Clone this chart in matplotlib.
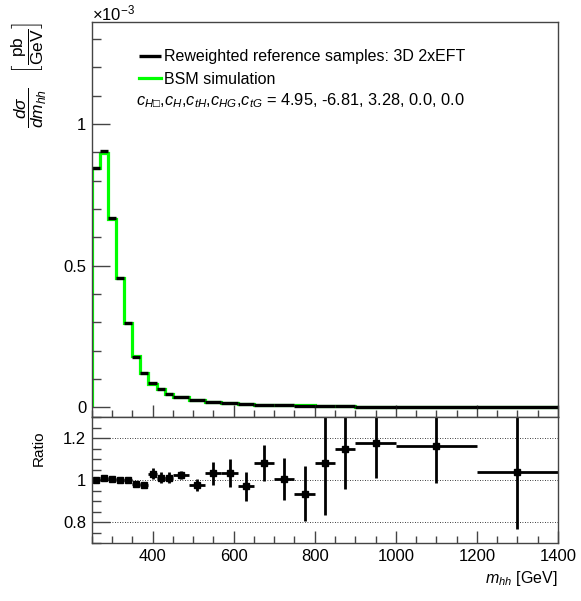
import numpy as np
import matplotlib
matplotlib.use('Agg')
import matplotlib.pyplot as plt
from matplotlib.ticker import MultipleLocator, FuncFormatter

plt.rcParams['font.family'] = ['Liberation Sans', 'DejaVu Sans']
plt.rcParams['mathtext.fontset'] = 'custom'
plt.rcParams['mathtext.rm'] = 'Liberation Sans'
plt.rcParams['mathtext.it'] = 'Liberation Sans:italic'
plt.rcParams['mathtext.bf'] = 'Liberation Sans:bold'

# bin edges in m_hh [GeV]
bin_edges = [250, 270, 290, 310, 330, 350, 370, 390, 410, 430, 450, 490, 530,
             570, 610, 650, 700, 750, 800, 850, 900, 1000, 1200, 1400]

# d sigma / d m_hh in units of 1e-3 pb/GeV
reweighted = [0.844, 0.906, 0.667, 0.458, 0.296, 0.179, 0.120, 0.085, 0.064,
              0.047, 0.037, 0.026, 0.020, 0.016, 0.0127, 0.0095, 0.0072,
              0.0062, 0.0045, 0.0038, 0.0030, 0.0020, 0.0010]
bsm = [0.846, 0.899, 0.665, 0.458, 0.296, 0.183, 0.123, 0.0825, 0.0633,
       0.0465, 0.0361, 0.0266, 0.0194, 0.0155, 0.0131, 0.0088, 0.0072,
       0.0066, 0.0042, 0.0033, 0.0026, 0.0017, 0.00096]

# ratio reweighted / BSM and its uncertainty
ratio = [0.998, 1.008, 1.003, 1.000, 1.000, 0.980, 0.975, 1.030, 1.011, 1.011,
         1.024, 0.976, 1.033, 1.033, 0.970, 1.082, 1.006, 0.935, 1.082, 1.148,
         1.176, 1.164, 1.038]
ratio_err = [0.006, 0.006, 0.006, 0.007, 0.008, 0.012, 0.014, 0.025, 0.025,
             0.025, 0.02, 0.03, 0.055, 0.065, 0.07, 0.085, 0.1, 0.13, 0.25,
             0.19, 0.165, 0.18, 0.27]

edges = np.array(bin_edges, dtype=float)
centers = 0.5 * (edges[1:] + edges[:-1])
half_w = 0.5 * (edges[1:] - edges[:-1])

W, H = 581, 601
fig = plt.figure(figsize=(W / 100, H / 100), dpi=100)

left, right = 91.7, 558
ax = fig.add_axes([left / W, 1 - 417 / H, (right - left) / W, (417 - 22) / H])
axr = fig.add_axes([left / W, 1 - 543 / H, (right - left) / W, (543 - 417) / H])

frame_col = '#444444'
for a in (ax, axr):
    for s in a.spines.values():
        s.set_color(frame_col)
        s.set_linewidth(1.0)
    a.tick_params(which='both', direction='in', color=frame_col, width=1.0,
                  top=False, right=False, labelsize=12, pad=4)

# main panel
ax.stairs(bsm, edges, color='#00ff00', lw=2.3, label='BSM simulation')
ax.hlines(reweighted, edges[:-1], edges[1:], color='black', lw=2.4,
          label='Reweighted reference samples: 3D 2xEFT')
ax.set_xlim(250, 1400)
ax.set_ylim(-0.034, 1.36)
ax.xaxis.set_major_locator(MultipleLocator(200))
ax.xaxis.set_minor_locator(MultipleLocator(50))
ax.yaxis.set_major_locator(MultipleLocator(0.5))
ax.yaxis.set_minor_locator(MultipleLocator(0.1))
ax.tick_params(axis='x', labelbottom=False)
ax.tick_params(axis='x', which='major', length=9)
ax.tick_params(axis='x', which='minor', length=5)
ax.tick_params(axis='y', which='major', length=13)
ax.tick_params(axis='y', which='minor', length=6.5)
ax.yaxis.set_major_formatter(FuncFormatter(lambda v, p: '%g' % round(v, 3)))

handles, labels = ax.get_legend_handles_labels()
ax.legend(handles[::-1], labels[::-1], loc='upper left',
          bbox_to_anchor=(0.088, 0.947), frameon=False, fontsize=11.5,
          handlelength=1.4, handletextpad=0.15, labelspacing=0.45,
          borderaxespad=0)
ax.text(0.095, 0.80,
        '$c_{H\u25a1}$,$c_{H}$,$c_{tH}$,$c_{HG}$,$c_{tG}$ = 4.95, -6.81, 3.28, 0.0, 0.0',
        transform=ax.transAxes, fontsize=11.8, va='center', ha='left')

fig.text(left / W, 1 - 20 / H, r'$\times10^{-3}$', fontsize=12,
         ha='left', va='baseline')
fig.text(29 / W, 1 - 22 / H,
         r'$\dfrac{d\sigma}{dm_{hh}}\quad\left[\dfrac{\mathrm{pb}}{\mathrm{GeV}}\right]$',
         rotation=90, fontsize=12.5, ha='center', va='top')

# ratio panel
axr.errorbar(centers, ratio, xerr=half_w, yerr=ratio_err, fmt='s',
             color='black', ms=5, elinewidth=2, capsize=0)
for yv in (0.8, 1.0, 1.2):
    axr.axhline(yv, color='black', lw=0.6, ls=(0, (1, 2)), zorder=0)
axr.set_xlim(250, 1400)
axr.set_ylim(0.7, 1.3)
axr.xaxis.set_major_locator(MultipleLocator(200))
axr.xaxis.set_minor_locator(MultipleLocator(50))
axr.yaxis.set_major_locator(MultipleLocator(0.2))
axr.yaxis.set_minor_locator(MultipleLocator(0.05))
axr.tick_params(axis='x', which='major', length=9)
axr.tick_params(axis='x', which='minor', length=5)
axr.tick_params(axis='y', which='major', length=13)
axr.tick_params(axis='y', which='minor', length=6.5)
axr.yaxis.set_major_formatter(FuncFormatter(lambda v, p: '%g' % round(v, 3)))
axr.xaxis.set_major_formatter(FuncFormatter(lambda v, p: '%g' % v))
axr.set_ylabel('Ratio', fontsize=11)
axr.yaxis.set_label_coords(-45.5 / (right - left), 0.75)

fig.text(right / W, 1 - 578 / H, r'$m_{hh}$ [GeV]', fontsize=11.5,
         ha='right', va='center')

fig.savefig('out.png', dpi=100)
